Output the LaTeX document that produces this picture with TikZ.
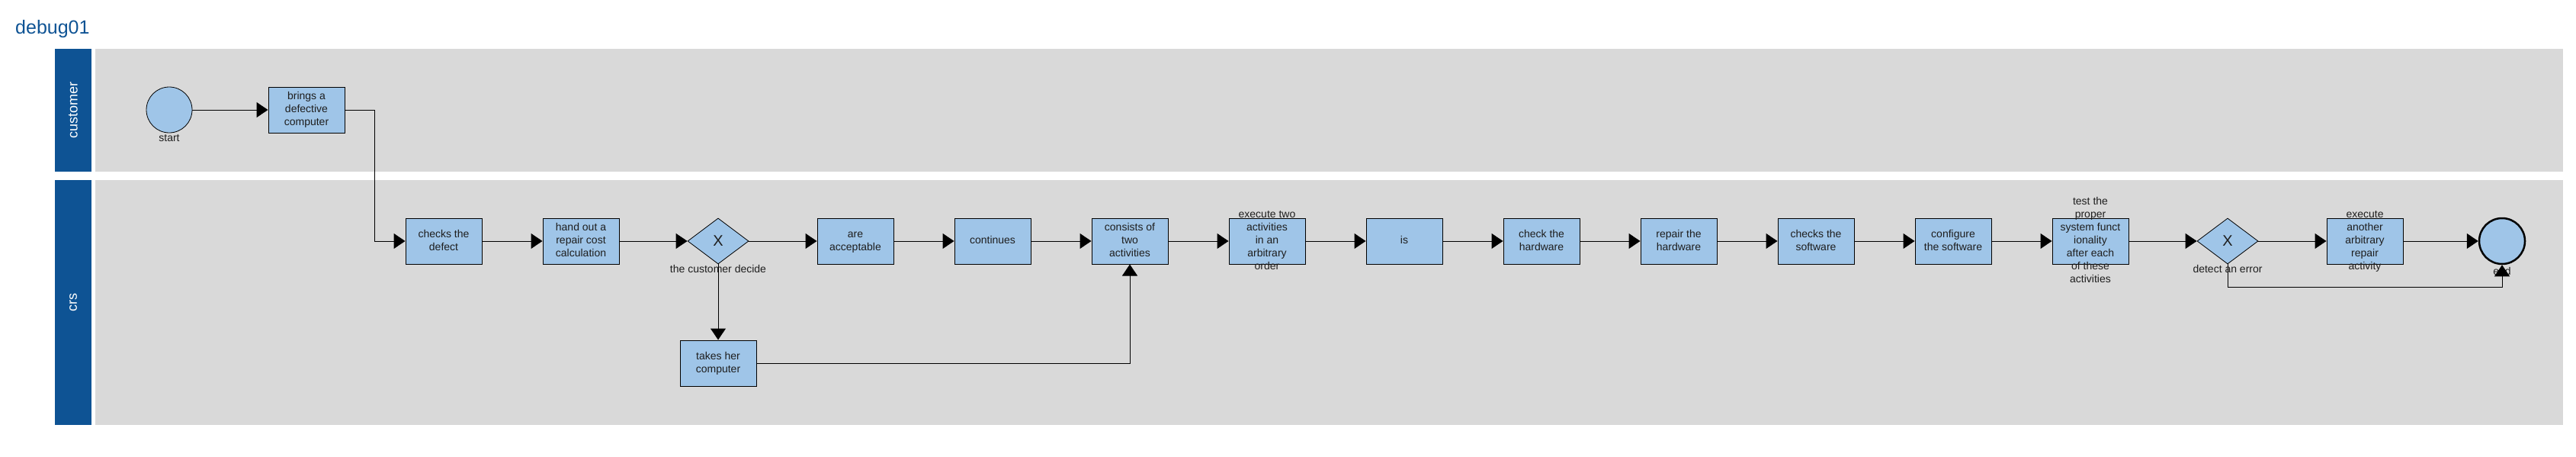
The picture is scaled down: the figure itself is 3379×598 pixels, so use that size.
\documentclass[tikz,border=0pt]{standalone}
\usepackage{fontspec}
\setmainfont{Liberation Sans}
\usetikzlibrary{arrows.meta, shapes.geometric, positioning}
\definecolor{laneGray}{HTML}{D9D9D9}
\definecolor{headBlue}{HTML}{0E5394}
\definecolor{taskBlue}{HTML}{9FC5E8}
\definecolor{inkGray}{HTML}{1E1E1E}
\newcommand{\TaskText}[1]{\smash{\raisebox{-4pt}{\begin{tabular}{@{}c@{}}#1\end{tabular}}}}
\tikzset{
    lanehead/.style={fill=headBlue, text=white, rotate=90, inner sep=0pt, font=\fontsize{18}{20}\selectfont},
    task/.style={rectangle, draw=black, line width=1pt, fill=taskBlue, minimum width=100pt, minimum height=60pt, inner sep=0pt, text=inkGray, font=\fontsize{14}{17}\selectfont},
    gate/.style={diamond, draw=black, line width=0.8pt, fill=taskBlue, minimum width=80pt, minimum height=60pt, inner sep=0pt, text=inkGray, font=\fontsize{20}{20}\selectfont},
    event/.style={circle, draw=black, fill=taskBlue, minimum size=60pt, inner sep=0pt},
    tag/.style={inner sep=0pt, text=inkGray, font=\fontsize{14}{17}\selectfont},
    flow/.style={line width=1pt, -{Triangle[length=15pt, width=20pt]}}
}

\begin{document}
\begin{tikzpicture}[x=1pt, y=-1pt]
        \useasboundingbox (0,0) rectangle (3379,598);
        % Title
        \node[anchor=base west, inner sep=0pt, text=headBlue, font=\fontsize{25}{28}\selectfont] (title) at (20,44) {debug01};

        % Lanes
        \fill[laneGray] (125,64) rectangle (3362,225);
        \fill[laneGray] (125,236) rectangle (3362,557);
        \node[lanehead, minimum width=161pt, minimum height=48pt] (hdCustomer) at (96,144.5) {customer};
        \node[lanehead, minimum width=321pt, minimum height=48pt] (hdCrs) at (96,396.5) {crs};

        % Lane customer
        \node[event, line width=0.8pt, label={[tag, label distance=2pt]below:start}] (start) at (222,144) {};
        \node[task] (brings) at (402,144) {\TaskText{brings a\\defective\\computer}};

        % Lane crs, main row
        \node[task] (checks) at (582,316) {\TaskText{checks the\\defect}};
        \node[task] (handout) at (762,316) {\TaskText{hand out a\\repair cost\\calculation}};
        \node[gate, label={[tag, label distance=1pt]below:the customer decide}] (gwDecide) at (942,316) {X};
        \node[task] (accept) at (1122,316) {\TaskText{are\\acceptable}};
        \node[task] (continues) at (1302,316) {\TaskText{continues}};
        \node[task] (consists) at (1482,316) {\TaskText{consists of\\two\\activities}};
        \node[task] (execTwo) at (1662,316) {\TaskText{execute two\\activities\\in an\\arbitrary\\order}};
        \node[task] (is) at (1842,316) {\TaskText{is}};
        \node[task] (checkHw) at (2022,316) {\TaskText{check the\\hardware}};
        \node[task] (repairHw) at (2202,316) {\TaskText{repair the\\hardware}};
        \node[task] (checkSw) at (2382,316) {\TaskText{checks the\\software}};
        \node[task] (configSw) at (2562,316) {\TaskText{configure\\the software}};
        \node[task] (testSys) at (2742,316) {\TaskText{test the\\proper\\system funct\\ionality\\after each\\of these\\activities}};
        \node[gate, label={[tag, label distance=1pt]below:detect an error}] (gwError) at (2922,316) {X};
        \node[task] (execOther) at (3102,316) {\TaskText{execute\\another\\arbitrary\\repair\\activity}};
        \node[event, line width=2.5pt, label={[tag, label distance=3pt]below:end}] (end) at (3282,316) {};

        % Lane crs, lower row
        \node[task] (takes) at (942,476) {\TaskText{takes her\\computer}};

        % Sequence flows
        \draw[flow] (start) -- (brings);
        \draw[flow] (brings.east) -- ++(39,0) |- (checks.west);
        \foreach \a/\b in {checks/handout, handout/gwDecide, gwDecide/accept, accept/continues, continues/consists, consists/execTwo, execTwo/is, is/checkHw, checkHw/repairHw, repairHw/checkSw, checkSw/configSw, configSw/testSys, testSys/gwError, gwError/execOther, execOther/end}
            \draw[flow] (\a) -- (\b);
        \draw[flow] (gwDecide) -- (takes);
        \draw[flow] (takes.east) -| (consists.south);
        \draw[flow] (gwError.south) -- ++(0,30) -| (end.south);
    \end{tikzpicture}
\end{document}
